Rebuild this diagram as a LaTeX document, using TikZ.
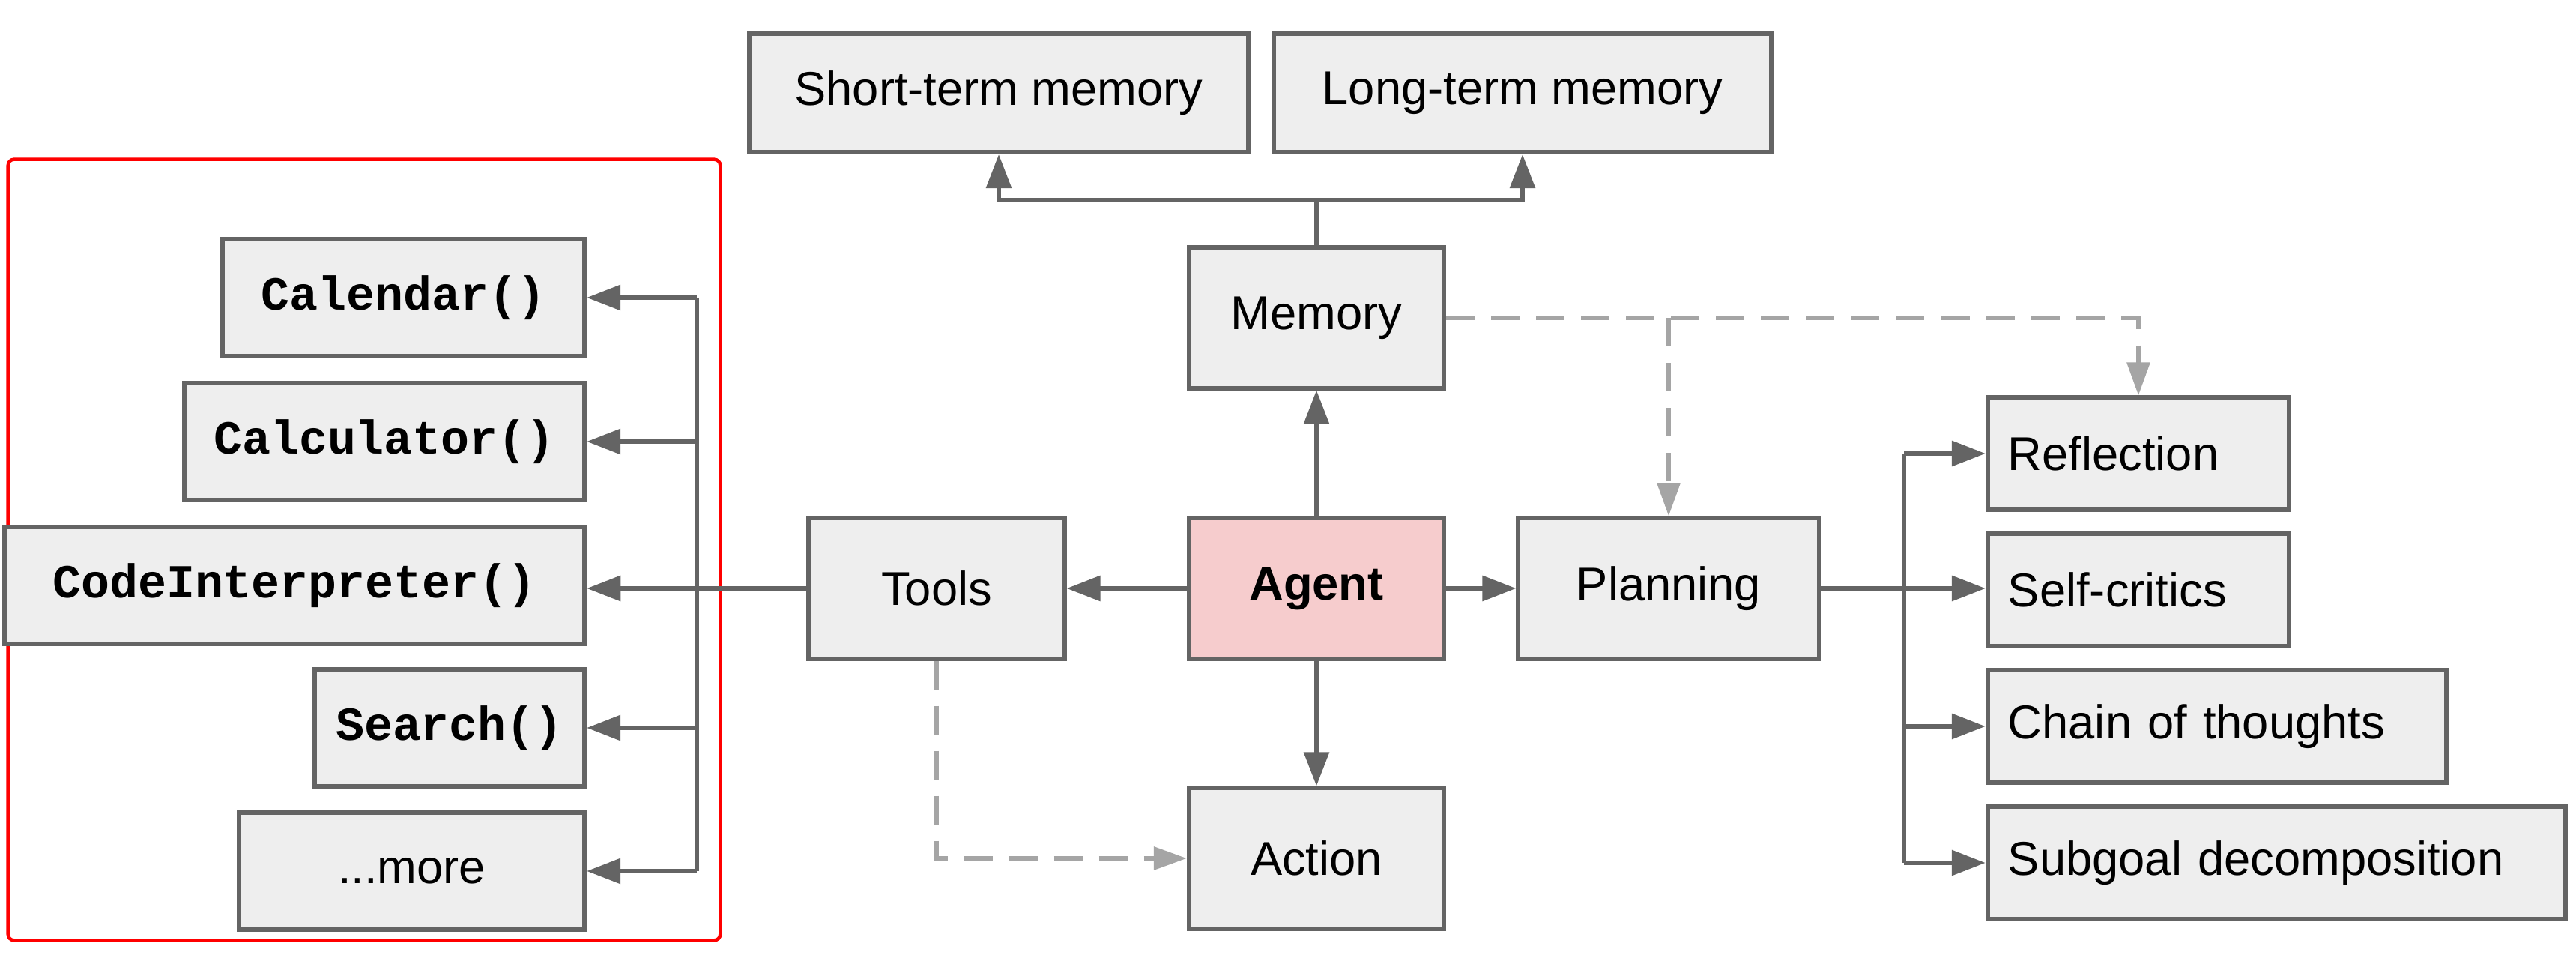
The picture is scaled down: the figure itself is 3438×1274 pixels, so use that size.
\documentclass[tikz,border=0pt]{standalone}
\usepackage{fontspec}
\setmainfont{Liberation Sans}
\setmonofont{Liberation Mono}
\usetikzlibrary{arrows.meta}
\definecolor{boxfill}{RGB}{238,238,238}
\definecolor{boxline}{RGB}{100,100,100}
\definecolor{agentfill}{RGB}{246,204,205}
\definecolor{dashgray}{RGB}{165,165,165}
\definecolor{redframe}{RGB}{255,0,0}
\begin{document}
\begin{tikzpicture}[x=0.01cm,y=-0.01cm,
  box/.style={draw=boxline, fill=boxfill, line width=0.06cm, minimum height=1.55cm, inner sep=0pt, font=\fontsize{18}{21}\selectfont},
  bigbox/.style={box, minimum height=1.87cm},
  mono/.style={box, font=\fontsize{18}{21}\selectfont\ttfamily\bfseries},
  leftbox/.style={box, minimum height=1.49cm, align=left, text width=#1, inner xsep=0.27cm},
  conn/.style={draw=boxline, line width=0.06cm, -{Triangle[length=0.45cm,width=0.33cm]}},
  plainline/.style={draw=boxline, line width=0.06cm},
  dconn/.style={draw=dashgray, line width=0.06cm, dash pattern=on 0.38cm off 0.22cm, -{Triangle[length=0.44cm,width=0.3cm]}},
]
\fill[white] (0,0) rectangle (3438,1274);
\useasboundingbox (0,0) rectangle (3438,1274);

% red frame
\node[draw=redframe, line width=0.045cm, rounded corners=0.08cm, minimum width=9.5cm, minimum height=10.41cm, inner sep=0pt] (frame) at (486,733.5) {};

% tools list
\node[mono, minimum width=4.83cm] (cal) at (538.5,397) {Calendar()};
\node[mono, minimum width=5.34cm] (calc) at (513,589) {Calculator()};
\node[mono, minimum width=7.74cm] (code) at (393,781) {CodeInterpreter()};
\node[mono, minimum width=3.60cm] (search) at (600,971) {Search()};
\node[box, minimum width=4.61cm] (more) at (549.5,1162) {...more};

% memory
\node[box, minimum width=6.66cm, minimum height=1.58cm] (st) at (1333,124) {Short-term memory};
\node[box, minimum width=6.64cm, minimum height=1.58cm] (lt) at (2032,124) {Long-term memory};
\node[bigbox, minimum width=3.4cm] (mem) at (1757,424) {Memory};

% centre row
\node[bigbox, minimum width=3.41cm] (tools) at (1250,785) {Tools};
\node[bigbox, minimum width=3.4cm, fill=agentfill, font=\fontsize{18}{21}\selectfont\bfseries] (agent) at (1757,785) {Agent};
\node[bigbox, minimum width=4.01cm] (plan) at (2227,785) {Planning};
\node[bigbox, minimum width=3.4cm] (act) at (1757,1145) {Action};

% planning list
\node[leftbox=3.48cm] (refl) at (2854,605) {Reflection};
\node[leftbox=3.48cm] (self) at (2854,787) {Self-critics};
\node[leftbox=5.58cm] (chain) at (2959,969) {Chain of thoughts};
\node[leftbox=7.17cm] (sub) at (3038.5,1151) {Subgoal decomposition};

% agent connectors
\draw[conn] (agent) -- (tools);
\draw[conn] (agent) -- (plan);
\draw[conn] (agent) -- (mem);
\draw[conn] (agent) -- (act);

% memory branch
\coordinate (mj) at (1757,267);
\draw[plainline] (mem.north) -- (mj);
\draw[conn] (mj) -| (st.south);
\draw[conn] (mj) -| (lt.south);

% tools branch
\coordinate (tx) at (930,0);
\draw[conn] (tools.west) -- (code.east |- tools.west);
\draw[plainline] (tx |- cal.east) -- (tx |- more.east);
\draw[conn] (tx |- cal.east) -- (cal.east);
\draw[conn] (tx |- calc.east) -- (calc.east);
\draw[conn] (tx |- search.east) -- (search.east);
\draw[conn] (tx |- more.east) -- (more.east);

% planning branch
\coordinate (px) at (2541,0);
\draw[conn] (plan.east) -- (self.west |- plan.east);
\draw[plainline] (px |- refl.west) -- (px |- sub.west);
\draw[conn] (px |- refl.west) -- (refl.west);
\draw[conn] (px |- chain.west) -- (chain.west);
\draw[conn] (px |- sub.west) -- (sub.west);

% dashed connectors
\draw[dconn] (mem.east) -| (refl.north);
\draw[dconn] (plan.north |- mem.east) -- (plan.north);
\draw[dconn] (tools.south) |- (act.west);
\end{tikzpicture}
\end{document}
